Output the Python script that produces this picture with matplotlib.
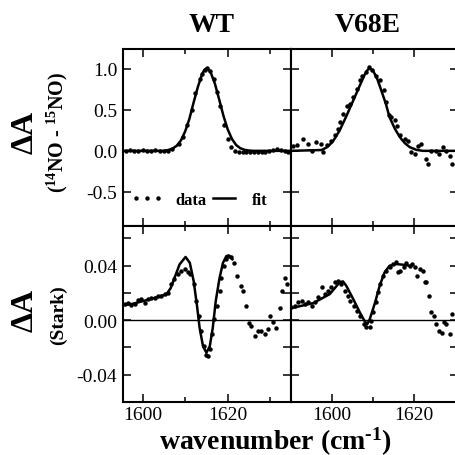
import matplotlib
matplotlib.use('Agg')
import matplotlib.pyplot as plt
from matplotlib.lines import Line2D
from matplotlib.ticker import MultipleLocator, FormatStrFormatter

plt.rcParams['font.family'] = ['Liberation Serif', 'DejaVu Serif']
plt.rcParams['mathtext.fontset'] = 'custom'
plt.rcParams['mathtext.rm'] = 'Liberation Serif:bold'
plt.rcParams['mathtext.default'] = 'rm'
plt.rcParams['axes.unicode_minus'] = False

# ---------------- data ----------------
panel_titles = ['WT', 'V68E']

# WT, isotope difference spectrum (14NO - 15NO)
wt_iso_x = [1596, 1597, 1598, 1599, 1600, 1601, 1602, 1603, 1604, 1605, 1606, 1607,
            1608.5, 1609.5, 1610.4, 1611.5, 1612.4, 1613.4, 1614.0, 1614.6, 1615.1,
            1615.8, 1616.7, 1617.4, 1618.1, 1619.1, 1620.1, 1620.8, 1621.8, 1622.6,
            1623.5, 1624.4, 1625.3, 1626.2, 1627.1, 1628.0, 1628.9, 1629.8, 1630.7,
            1631.6, 1632.5, 1633.4, 1634.3, 1635.2]
wt_iso_y = [0.0, 0.005, 0.0, 0.0, 0.005, 0.0, 0.0, 0.005, 0.0, 0.0, 0.0, 0.02,
            0.08, 0.17, 0.32, 0.50, 0.70, 0.87, 0.93, 0.99, 1.01,
            0.97, 0.88, 0.72, 0.54, 0.32, 0.15, 0.05, 0.0, -0.01,
            -0.01, -0.01, -0.02, -0.02, -0.02, -0.01, -0.01, 0.0, 0.015,
            0.02, 0.01, 0.0, -0.02, -0.02]
wt_iso_fit_x = [1595.5, 1605, 1606, 1607, 1608, 1609, 1610, 1611, 1612, 1613, 1614,
                1614.5, 1615, 1615.5, 1616, 1617, 1618, 1619, 1620, 1621, 1622,
                1623, 1624, 1625, 1626, 1635]
wt_iso_fit_y = [0.0, 0.0, 0.01, 0.026, 0.061, 0.126, 0.236, 0.39, 0.59, 0.78, 0.935,
                0.985, 1.0, 0.99, 0.956, 0.818, 0.627, 0.429, 0.263, 0.145, 0.071,
                0.031, 0.012, 0.004, 0.0, 0.0]

# V68E, isotope difference spectrum
v_iso_x = [1590.6, 1591.6, 1593.1, 1594.3, 1595.1, 1596.1, 1597.3, 1597.9, 1598.9,
           1599.7, 1600.7, 1601.5, 1602.1, 1602.7, 1603.6, 1604.4, 1605.2, 1606.0,
           1606.8, 1607.4, 1608.2, 1609.0, 1609.8, 1610.7, 1611.6, 1612.6, 1613.2,
           1613.9, 1614.4, 1615.3, 1615.8, 1616.6, 1617.7, 1618.5, 1619.3, 1620.1,
           1620.9, 1621.7, 1622.9, 1623.3, 1624.1, 1625.3, 1626.0, 1627.0, 1627.8,
           1628.6, 1629.1]
v_iso_y = [0.065, 0.077, 0.146, 0.085, -0.004, 0.106, 0.085, -0.016, 0.077,
           0.118, 0.187, 0.268, 0.35, 0.45, 0.55, 0.57, 0.654, 0.756,
           0.858, 0.906, 0.959, 1.02, 0.98, 0.906, 0.858, 0.744, 0.594,
           0.431, 0.411, 0.37, 0.297, 0.187, 0.146, 0.118, -0.016, -0.037,
           0.065, 0.085, -0.098, -0.159, 0.004, 0.004, -0.037, 0.045, 0.004,
           -0.057, -0.159]
v_iso_fit_x = [1590, 1597.5, 1598.7, 1599.5, 1600.3, 1601.9, 1603.6, 1605.2, 1606.8,
               1608.0, 1608.6, 1609.0, 1609.5, 1610.0, 1611.0, 1612.0, 1613.1, 1614.0,
               1615.3, 1616.5, 1617.7, 1618.9, 1620.5, 1622.1, 1631]
v_iso_fit_y = [0.0, 0.01, 0.04, 0.075, 0.118, 0.248, 0.431, 0.614, 0.797,
               0.931, 0.98, 1.0, 0.995, 0.975, 0.878, 0.736, 0.573, 0.41,
               0.268, 0.167, 0.094, 0.045, 0.012, 0.0, 0.0]

# WT, Stark spectrum
wt_stark_x = [1595.8, 1596.5, 1597.3, 1598.1, 1598.9, 1599.7, 1600.5, 1601.3, 1602.0,
              1602.8, 1603.6, 1604.4, 1605.2, 1606.0, 1606.7, 1607.3, 1608.3, 1609.1,
              1609.9, 1610.7, 1611.2, 1612.0, 1612.6, 1613.2, 1613.8, 1614.4, 1614.8,
              1615.4, 1615.8, 1616.4, 1616.9, 1617.5, 1618.1, 1618.5, 1619.1, 1619.5,
              1620.1, 1620.9, 1621.6, 1622.2, 1623.2, 1623.6, 1624.4, 1625.0, 1625.6,
              1626.4, 1627.1, 1627.9, 1628.7, 1629.5, 1630.0, 1630.7, 1631.3, 1632.2,
              1632.9, 1633.4, 1634.0]
wt_stark_y = [0.0115, 0.0127, 0.0110, 0.0120, 0.0145, 0.0152, 0.0127, 0.0152, 0.0164,
              0.0159, 0.0176, 0.0176, 0.0189, 0.0201, 0.0262, 0.0299, 0.0340, 0.0360,
              0.0372, 0.0355, 0.0340, 0.0262, 0.0140, 0.0030, -0.0081, -0.0191, -0.0252,
              -0.0264, -0.0215, -0.0105, 0.0005, 0.0103, 0.0213, 0.0311, 0.0397, 0.0446,
              0.0470, 0.0463, 0.0421, 0.0323, 0.0250, 0.0213, 0.0103, -0.0019, -0.0044,
              -0.0117, -0.0081, -0.0081, -0.0105, -0.0068, 0.0030, -0.0012, -0.0056, 0.0091,
              0.0213, 0.0311, 0.0262]
wt_stark_fit_x = [1595.7, 1597.7, 1601.6, 1605.6, 1606.6, 1607.5, 1608.7, 1610.1, 1611.1,
                  1612.0, 1612.8, 1613.4, 1614.2, 1615.0, 1615.8, 1616.5, 1617.2, 1618.1,
                  1618.9, 1619.7, 1620.5, 1621.1]
wt_stark_fit_y = [0.011, 0.012, 0.0152, 0.0189, 0.0235, 0.031, 0.0409, 0.0463, 0.042,
                  0.0287, 0.0103, -0.0056, -0.0191, -0.0239, -0.0191, -0.0056, 0.014, 0.031,
                  0.042, 0.047, 0.047, 0.0446]

# V68E, Stark spectrum
v_stark_x = [1590.2, 1591.0, 1591.9, 1592.7, 1593.5, 1594.3, 1595.1, 1595.9, 1596.7,
             1597.5, 1598.3, 1599.1, 1599.9, 1600.7, 1601.5, 1602.3, 1603.1, 1604.0,
             1604.5, 1605.3, 1606.1, 1606.9, 1607.7, 1608.4, 1609.2, 1609.6, 1610.0,
             1610.7, 1611.2, 1611.6, 1612.4, 1613.2, 1614.0, 1614.9, 1615.5, 1616.1,
             1616.6, 1617.4, 1618.1, 1618.9, 1619.5, 1620.1, 1620.7, 1621.3, 1622.0,
             1622.5, 1622.9, 1623.6, 1624.1, 1624.7, 1625.3, 1626.0, 1626.6, 1627.1,
             1627.8, 1628.6, 1629.2]
v_stark_y = [0.0093, 0.0105, 0.0130, 0.0142, 0.0117, 0.0130, 0.0105, 0.0130, 0.0166,
             0.0240, 0.0191, 0.0215, 0.0240, 0.0277, 0.0284, 0.0264, 0.0215, 0.0179,
             0.0142, 0.0105, 0.0068, 0.0032, -0.0029, -0.0049, -0.0049, -0.0005, 0.0056,
             0.0130, 0.0203, 0.0264, 0.0325, 0.0362, 0.0387, 0.0411, 0.0423, 0.0350,
             0.0362, 0.0387, 0.0416, 0.0399, 0.0411, 0.0387, 0.0325, 0.0374, 0.0362,
             0.0277, 0.0277, 0.0179, 0.0056, 0.0032, -0.0029, -0.0078, -0.0091, -0.0017,
             -0.0029, -0.0103, 0.0044]
v_stark_fit_x = [1590.2, 1595.5, 1599.5, 1601.9, 1602.7, 1603.5, 1605.2, 1606.8, 1608.0,
                 1608.6, 1609.2, 1610.5, 1611.6, 1612.8, 1614.0, 1615.7, 1617.3, 1618.8]
v_stark_fit_y = [0.0088, 0.0125, 0.0191, 0.0277, 0.0284, 0.0252, 0.0154, 0.0056, -0.0010,
                 -0.0029, 0.0007, 0.013, 0.0252, 0.035, 0.0399, 0.0411, 0.0406, 0.0399]

# ---------------- figure ----------------
W, H = 455, 456
fig = plt.figure(figsize=(W / 100, H / 100), dpi=100)


def rect(l, t, r, b):
    return [l / W, 1 - b / H, (r - l) / W, (b - t) / H]


ax_wt_top = fig.add_axes(rect(123.5, 50, 291, 227))
ax_v_top = fig.add_axes(rect(291, 50, 458, 227))
ax_wt_bot = fig.add_axes(rect(123.5, 227, 291, 403))
ax_v_bot = fig.add_axes(rect(291, 227, 458, 403))

MS = 3.2
LW = 1.8
series = [
    (ax_wt_top, wt_iso_x, wt_iso_y, wt_iso_fit_x, wt_iso_fit_y),
    (ax_v_top, v_iso_x, v_iso_y, v_iso_fit_x, v_iso_fit_y),
    (ax_wt_bot, wt_stark_x, wt_stark_y, wt_stark_fit_x, wt_stark_fit_y),
    (ax_v_bot, v_stark_x, v_stark_y, v_stark_fit_x, v_stark_fit_y),
]
for ax, dx, dy, fx, fy in series:
    ax.plot(dx, dy, 'o', ms=MS, mew=0, color='black', zorder=3)
    ax.plot(fx, fy, '-', lw=LW, color='black', zorder=4)

for ax in (ax_wt_bot, ax_v_bot):
    ax.axhline(0, color='black', lw=1.0, zorder=2)

for ax in (ax_wt_top, ax_wt_bot):
    ax.set_xlim(1595.5, 1634.9)
for ax in (ax_v_top, ax_v_bot):
    ax.set_xlim(1590.1, 1630.6)
for ax in (ax_wt_top, ax_v_top):
    ax.set_ylim(-0.915, 1.24)
    ax.yaxis.set_major_locator(MultipleLocator(0.5))
    ax.yaxis.set_major_formatter(FormatStrFormatter('%.1f'))
for ax in (ax_wt_bot, ax_v_bot):
    ax.set_ylim(-0.060, 0.069)
    ax.yaxis.set_major_locator(MultipleLocator(0.04))
    ax.yaxis.set_minor_locator(MultipleLocator(0.02))
    ax.yaxis.set_major_formatter(FormatStrFormatter('%.2f'))

for ax in (ax_wt_top, ax_v_top, ax_wt_bot, ax_v_bot):
    ax.xaxis.set_major_locator(MultipleLocator(20))
    ax.xaxis.set_minor_locator(MultipleLocator(10))
    ax.tick_params(which='both', direction='in', top=True, right=True,
                   width=1.1, labelsize=14)
    ax.tick_params(which='major', length=6)
    ax.tick_params(which='minor', length=3.5)
    ax.tick_params(axis='x', pad=3)
    ax.tick_params(axis='y', pad=4.5)
    ax.tick_params(axis='y', which='minor', length=6)
    for s in ax.spines.values():
        s.set_linewidth(1.5)

for ax in (ax_wt_top, ax_v_top):
    ax.tick_params(labelbottom=False)
for ax in (ax_v_top, ax_v_bot):
    ax.tick_params(labelleft=False)

# legend
h_data = Line2D([], [], ls='none', marker='o', ms=MS, mew=0, color='black')
h_fit = Line2D([], [], ls='-', lw=LW, color='black')
ax_wt_top.legend([h_data, h_fit], ['data', 'fit'], ncol=2, numpoints=3,
                 loc='center left', bbox_to_anchor=(0.045, 0.147), frameon=False,
                 borderpad=0, borderaxespad=0, handlelength=1.9, handletextpad=0.75,
                 columnspacing=0.1, prop={'family': 'Liberation Serif', 'weight': 'bold', 'size': 12})

# titles and labels
fig.text(212 / W, 1 - 32 / H, panel_titles[0], fontsize=20, fontweight='bold',
         ha='center', va='baseline')
fig.text(368 / W, 1 - 32 / H, panel_titles[1], fontsize=20, fontweight='bold',
         ha='center', va='baseline')

fig.text(25 / W, 1 - 132 / H, 'ΔA', rotation=90, fontsize=23, fontweight='bold',
         ha='center', va='center')
fig.text(57 / W, 1 - 132 / H, r'($^{14}$NO - $^{15}$NO)', rotation=90, fontsize=14.5,
         fontweight='bold', ha='center', va='center')
fig.text(25 / W, 1 - 310 / H, 'ΔA', rotation=90, fontsize=23, fontweight='bold',
         ha='center', va='center')
fig.text(58 / W, 1 - 315 / H, '(Stark)', rotation=90, fontsize=14,
         fontweight='bold', ha='center', va='center')

fig.text(275 / W, 1 - 450 / H, 'wavenumber (cm$^{\u20101}$)', fontsize=20,
         fontweight='bold', ha='center', va='baseline')

fig.savefig('out.png', dpi=100)
